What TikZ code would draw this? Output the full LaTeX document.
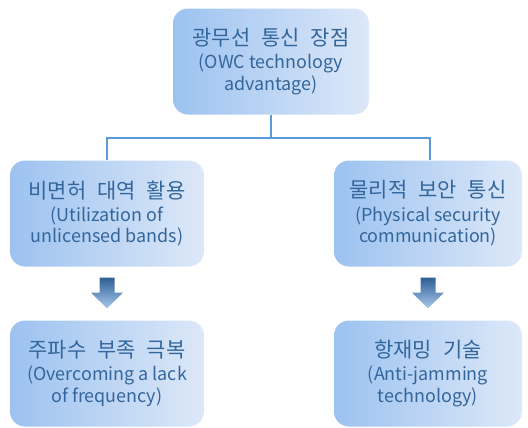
\documentclass[tikz,border=0pt]{standalone}
\usepackage{fontspec}
\setmainfont{Noto Sans CJK KR}
\usetikzlibrary{calc}
\definecolor{boxL}{HTML}{9CC2F0}
\definecolor{boxR}{HTML}{DDE8F8}
\definecolor{txt}{HTML}{33669C}
\definecolor{lnc}{HTML}{5B9BD5}
\definecolor{arT}{HTML}{2F5F95}
\definecolor{arB}{HTML}{A8C8EC}
\newcommand{\ks}{\hspace{11bp}}
\newcommand{\kline}[1]{{\fontsize{21}{24}\selectfont #1}}
\newcommand{\eline}[1]{{\fontsize{18}{21}\selectfont #1}}
\begin{document}
\begin{tikzpicture}[x=1bp,y=-1bp,
  box/.style={rounded corners=15bp, left color=boxL, right color=boxR, draw=none,
    inner sep=0pt, align=center, text=txt, minimum height=106bp},
  link/.style={draw=lnc, line width=2bp},
  blockarrow/.style={top color=arT, bottom color=arB, draw=none}]
\useasboundingbox (0,0) rectangle (528,427);

\node[box, minimum width=196bp] (top) at (271,61.5)
  {\kline{광무선\ks 통신\ks 장점}\\[6bp]\eline{(OWC technology}\\[2bp]\eline{advantage)}};
\node[box, minimum width=194bp] (m1) at (107,213.5)
  {\kline{비면허\ks 대역\ks 활용}\\[6bp]\eline{(Utilization of}\\[2bp]\eline{unlicensed bands)}};
\node[box, minimum width=188bp] (m2) at (428,213.5)
  {\kline{물리적\ks 보안\ks 통신}\\[6bp]\eline{(Physical security}\\[2bp]\eline{communication)}};
\node[box, minimum width=194bp] (b1) at (107,373.5)
  {\kline{주파수\ks 부족\ks 극복}\\[6bp]\eline{(Overcoming a lack}\\[2bp]\eline{of frequency)}};
\node[box, minimum width=188bp] (b2) at (428,373.5)
  {\kline{항재밍\ks 기술}\\[6bp]\eline{(Anti-jamming}\\[2bp]\eline{technology)}};

\coordinate (bus) at ($(top.south)+(0,23)$);
\draw[link] (top.south) -- (bus) -| ($(m1.north)+(0,0)$);
\draw[link] (bus) -| ($(m2.north)+(1.5,0)$);

\foreach \s/\t in {m1/b1, m2/b2}{
  \path[blockarrow]
    ($(\s.south)+(-7.5,11)$) -- ($(\s.south)+(7.5,11)$) --
    ($(\s.south)+(7.5,26)$) -- ($(\s.south)+(16,26)$) --
    ($(\t.north)+(0,-12)$) --
    ($(\s.south)+(-16,26)$) -- ($(\s.south)+(-7.5,26)$) -- cycle;
}
\end{tikzpicture}
\end{document}
